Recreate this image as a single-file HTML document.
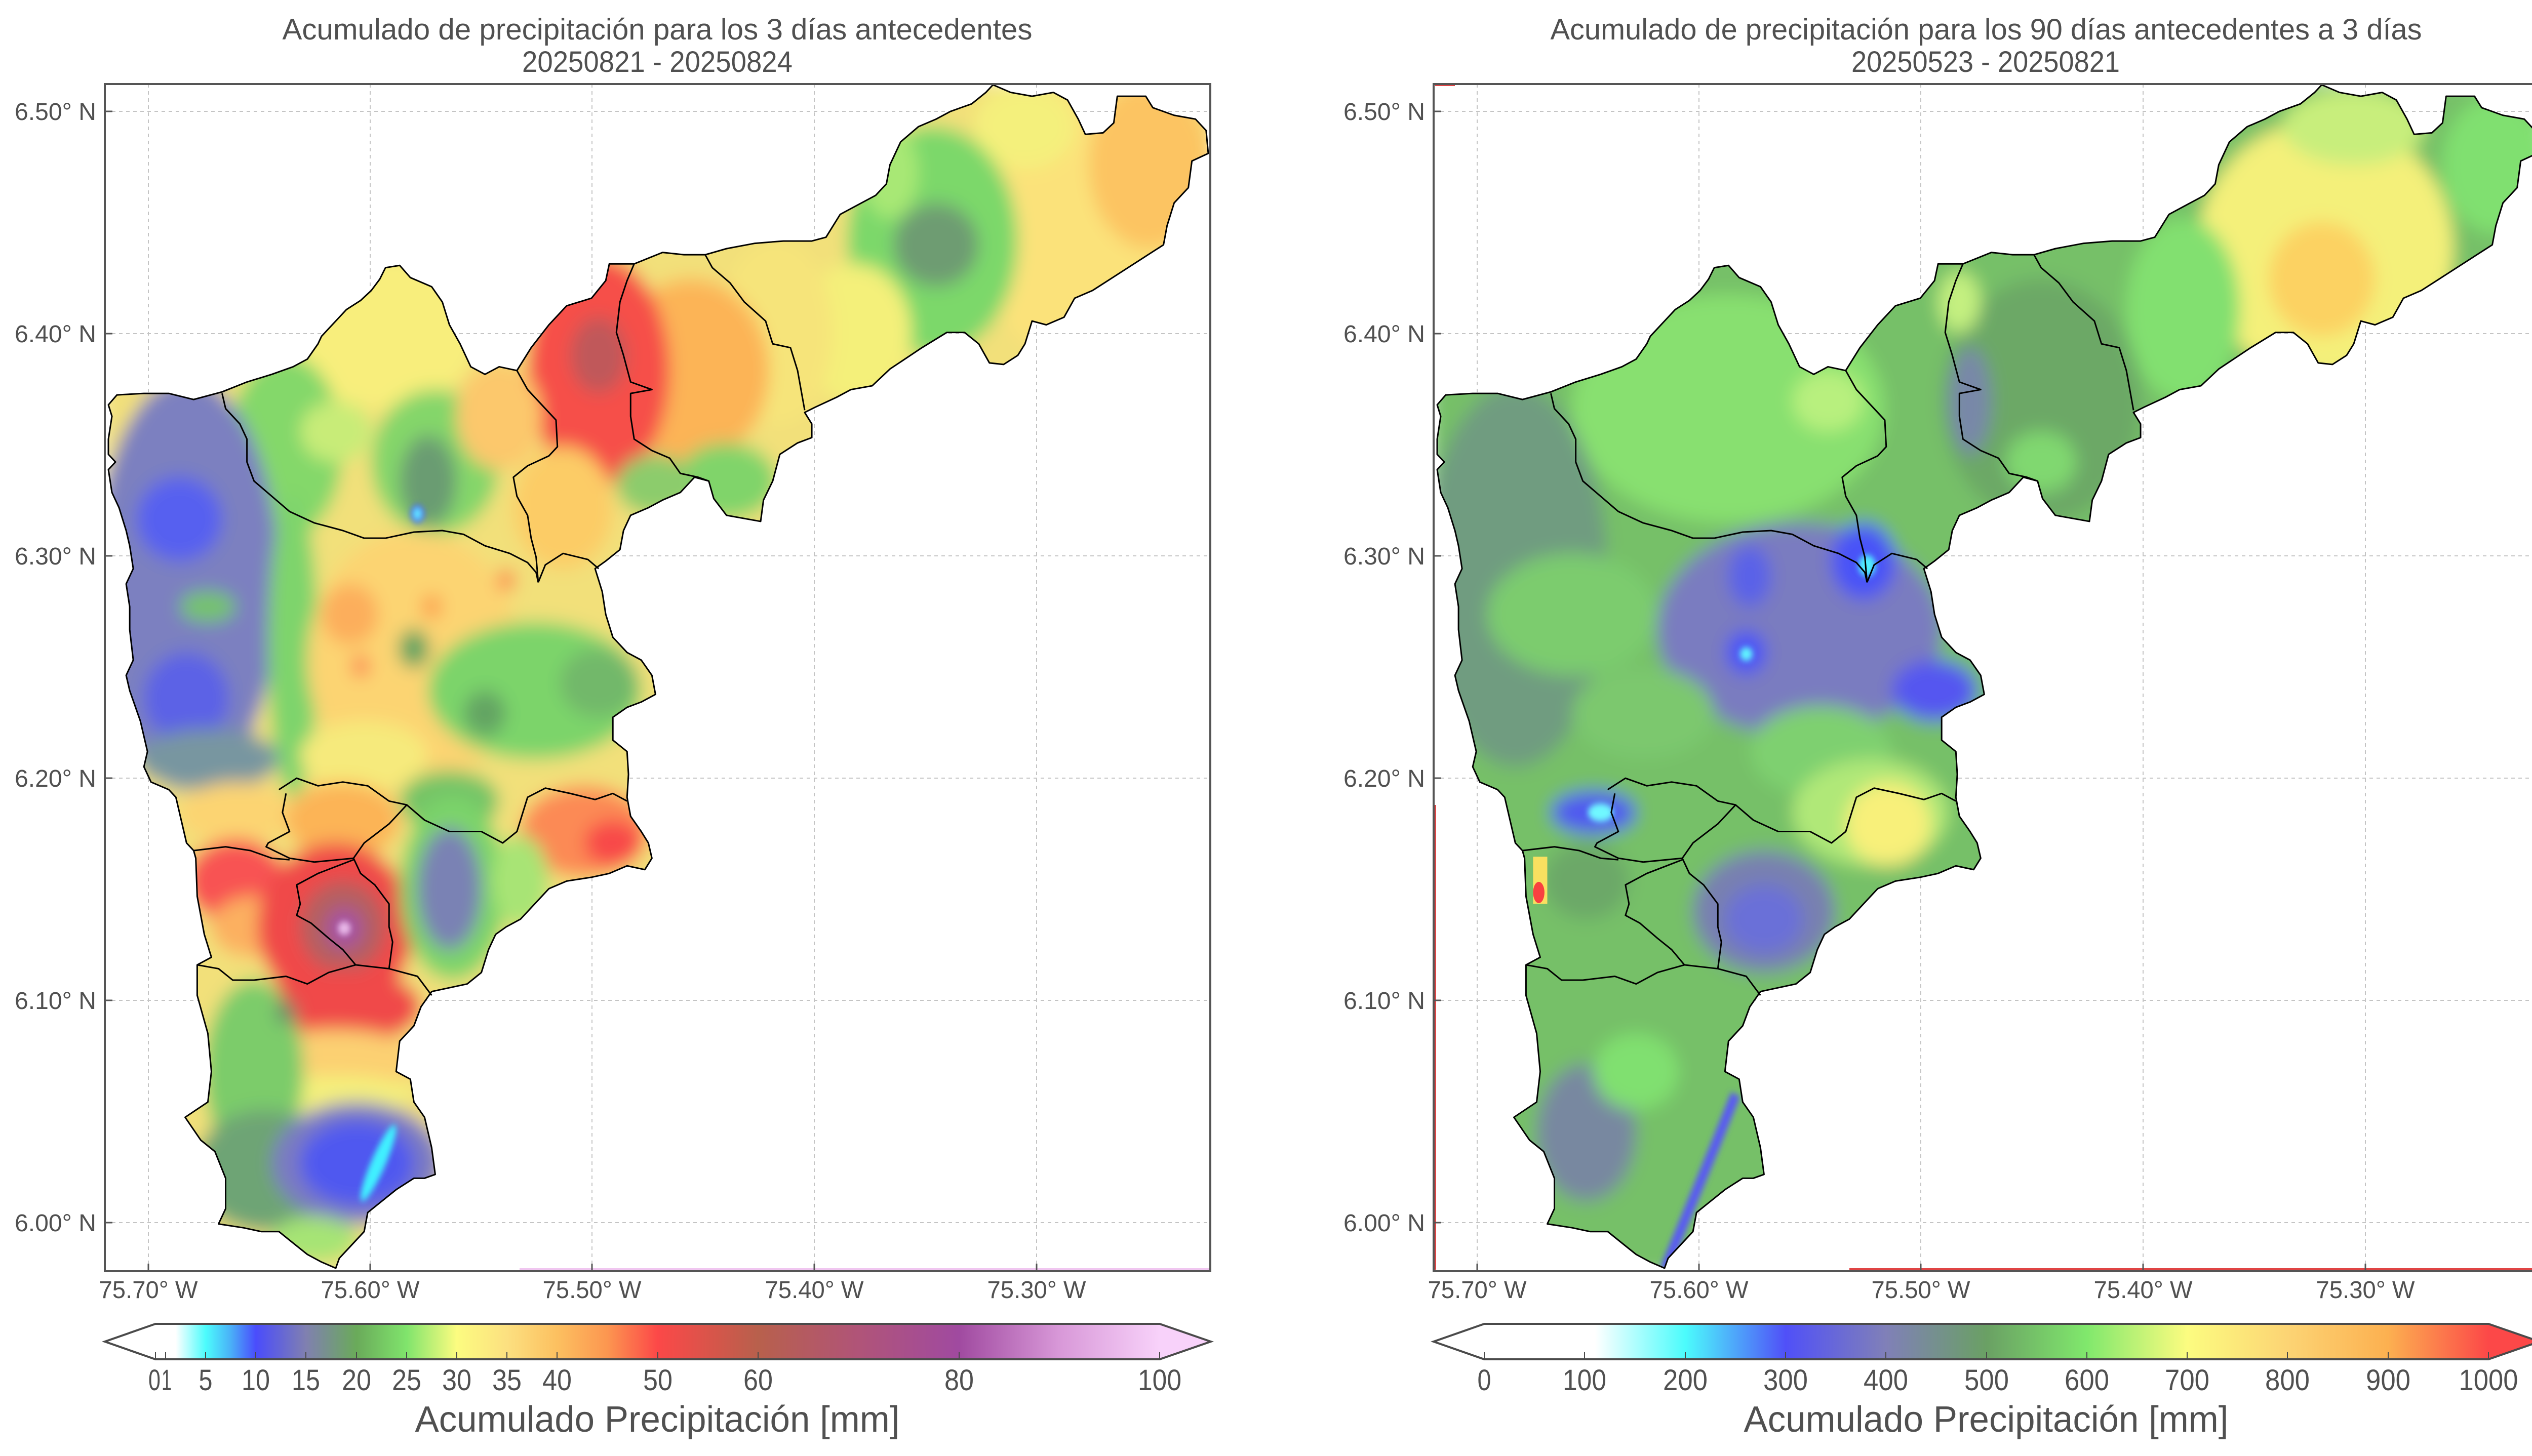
<!DOCTYPE html>
<html><head><meta charset="utf-8"><style>
html,body{margin:0;padding:0;background:#fff;}
svg{display:block;}
text{font-family:"Liberation Sans",sans-serif;fill:#505050;}
</style></head><body>
<svg width="5044" height="2876" viewBox="0 0 5044 2876" xmlns="http://www.w3.org/2000/svg">
<defs>
<clipPath id="basin" clipPathUnits="userSpaceOnUse">
<polygon points="22,412 60,410 95,410 130,418 170,408 205,395 240,385 270,375 290,365 305,345 310,335 330,315 345,300 365,288 380,275 392,260 400,245 420,242 435,258 465,270 480,290 490,320 505,345 520,375 540,385 560,375 585,380 605,350 630,320 655,295 690,285 710,262 715,240 750,240 790,225 820,228 850,228 880,220 920,213 960,210 1000,210 1020,205 1040,175 1060,165 1090,150 1105,135 1110,110 1125,80 1150,60 1175,50 1195,40 1225,30 1245,15 1255,5 1280,15 1310,20 1340,15 1360,25 1375,50 1385,70 1410,68 1425,55 1430,20 1470,20 1480,35 1510,45 1540,50 1555,65 1558,95 1535,105 1530,140 1510,160 1500,190 1495,215 1470,230 1445,245 1420,260 1395,275 1370,285 1355,310 1330,320 1310,315 1300,345 1290,360 1270,372 1250,370 1235,345 1215,330 1190,330 1155,350 1110,378 1085,400 1055,405 1035,415 1005,428 990,435 1000,450 1000,468 980,475 955,490 945,525 932,550 928,578 910,575 880,570 862,548 855,525 835,520 815,540 790,550 770,560 745,570 735,590 730,615 710,630 695,640 705,670 710,700 720,730 740,750 760,760 775,780 780,805 760,815 740,822 720,835 720,865 740,880 742,910 740,940 745,965 760,985 770,1000 775,1020 765,1035 740,1030 715,1040 690,1045 655,1050 630,1060 610,1080 590,1100 570,1110 555,1120 545,1140 535,1170 515,1185 490,1190 465,1195 450,1215 440,1240 420,1260 415,1300 435,1310 440,1340 455,1360 465,1400 470,1435 455,1440 440,1440 415,1455 395,1470 375,1485 370,1510 350,1530 335,1545 330,1558 310,1550 290,1540 270,1525 250,1510 225,1510 200,1505 165,1500 175,1480 175,1440 160,1405 140,1390 118,1360 150,1340 155,1300 150,1250 135,1200 135,1160 155,1150 145,1120 135,1070 133,1020 130,1010 120,1000 105,940 95,930 70,920 60,900 65,880 55,840 40,800 35,780 45,760 40,720 40,690 35,660 45,640 40,610 35,590 25,560 15,540 10,510 20,500 10,490 10,470 15,440 10,425"/>
</clipPath>
<filter id="blur" filterUnits="userSpaceOnUse" x="-50" y="-50" width="1700" height="1700"><feGaussianBlur stdDeviation="12"/></filter>
<filter id="blurS" filterUnits="userSpaceOnUse" x="-50" y="-50" width="1700" height="1700"><feGaussianBlur stdDeviation="4"/></filter>
<linearGradient id="cbL" gradientUnits="userSpaceOnUse" x1="307" y1="0" x2="2290" y2="0">
<stop offset="0" stop-color="#ffffff"/><stop offset="0.02" stop-color="#ffffff"/><stop offset="0.05" stop-color="#4cfcfc"/><stop offset="0.075" stop-color="#4ab0f8"/><stop offset="0.10" stop-color="#4a4cfc"/><stop offset="0.15" stop-color="#8080b0"/><stop offset="0.20" stop-color="#6aaa5a"/><stop offset="0.25" stop-color="#80e46c"/><stop offset="0.30" stop-color="#fcfc80"/><stop offset="0.35" stop-color="#fce080"/><stop offset="0.40" stop-color="#fcc060"/><stop offset="0.45" stop-color="#fc9650"/><stop offset="0.50" stop-color="#fc4848"/><stop offset="0.60" stop-color="#b8604c"/><stop offset="0.70" stop-color="#b05478"/><stop offset="0.80" stop-color="#a04aa0"/><stop offset="0.90" stop-color="#d898d8"/><stop offset="1" stop-color="#f8d2fa"/>
</linearGradient>
<linearGradient id="cbR" gradientUnits="userSpaceOnUse" x1="2931" y1="0" x2="4914" y2="0">
<stop offset="0" stop-color="#ffffff"/><stop offset="0.11" stop-color="#ffffff"/><stop offset="0.2" stop-color="#4cfcfc"/><stop offset="0.3" stop-color="#5050f8"/><stop offset="0.4" stop-color="#8080b8"/><stop offset="0.5" stop-color="#6aa064"/><stop offset="0.6" stop-color="#80e86c"/><stop offset="0.7" stop-color="#fcfc80"/><stop offset="0.8" stop-color="#fcd474"/><stop offset="0.9" stop-color="#fcb050"/><stop offset="1" stop-color="#fc4848"/>
</linearGradient>
</defs>

<!-- ================= LEFT PANEL ================= -->
<g stroke="#c4c4c4" stroke-width="2" stroke-dasharray="7,7" fill="none">
<line x1="293" y1="166" x2="293" y2="2511"/><line x1="731" y1="166" x2="731" y2="2511"/><line x1="1169" y1="166" x2="1169" y2="2511"/><line x1="1608" y1="166" x2="1608" y2="2511"/><line x1="2047" y1="166" x2="2047" y2="2511"/>
<line x1="207" y1="220" x2="2390" y2="220"/><line x1="207" y1="659" x2="2390" y2="659"/><line x1="207" y1="1098" x2="2390" y2="1098"/><line x1="207" y1="1537" x2="2390" y2="1537"/><line x1="207" y1="1976" x2="2390" y2="1976"/><line x1="207" y1="2415" x2="2390" y2="2415"/>
</g>

<g transform="translate(200,160) scale(1.40306,1.5051)">
<g clip-path="url(#basin)">
<g filter="url(#blur)">
<rect x="0" y="0" width="1568" height="1568" fill="#f2e07a"/>
<ellipse cx="1400" cy="190" rx="170" ry="190" fill="#fbe27a"/>
<ellipse cx="1475" cy="110" rx="85" ry="110" fill="#fcc462"/>
<ellipse cx="1300" cy="60" rx="70" ry="55" fill="#f4f07c"/>
<ellipse cx="1170" cy="210" rx="120" ry="150" fill="#7cd86a"/>
<ellipse cx="1175" cy="215" rx="60" ry="55" fill="#6e9c72"/>
<ellipse cx="1110" cy="120" rx="40" ry="60" fill="#a8e874"/>
<ellipse cx="1060" cy="330" rx="80" ry="90" fill="#f4f07a"/>
<ellipse cx="950" cy="330" rx="80" ry="120" fill="#f6e47a"/>
<ellipse cx="830" cy="380" rx="110" ry="120" fill="#fcb456"/>
<ellipse cx="700" cy="380" rx="100" ry="150" fill="#f65048"/>
<ellipse cx="700" cy="360" rx="40" ry="50" fill="#c0585a"/>
<ellipse cx="880" cy="525" rx="70" ry="50" fill="#80d46a"/>
<ellipse cx="780" cy="530" rx="55" ry="40" fill="#8ccc6c"/>
<ellipse cx="650" cy="560" rx="70" ry="80" fill="#fccc66"/>
<ellipse cx="400" cy="330" rx="130" ry="100" fill="#f8ee7c"/>
<ellipse cx="260" cy="480" rx="80" ry="120" fill="#84d86a"/>
<ellipse cx="470" cy="500" rx="90" ry="95" fill="#84d66a"/>
<ellipse cx="460" cy="525" rx="40" ry="60" fill="#6a9c72"/>
<ellipse cx="560" cy="440" rx="60" ry="70" fill="#fcc86c"/>
<ellipse cx="330" cy="460" rx="50" ry="40" fill="#c8ec78"/>
<ellipse cx="120" cy="660" rx="130" ry="270" fill="#7c80c0"/>
<ellipse cx="110" cy="575" rx="60" ry="55" fill="#5660f0"/>
<ellipse cx="120" cy="810" rx="60" ry="60" fill="#5c62e6"/>
<ellipse cx="150" cy="690" rx="40" ry="20" fill="#74c46a"/>
<ellipse cx="270" cy="740" rx="35" ry="200" fill="#7ed46c"/>
<ellipse cx="150" cy="890" rx="100" ry="40" fill="#7896a0"/>
<ellipse cx="440" cy="760" rx="150" ry="170" fill="#fcd472"/>
<ellipse cx="350" cy="700" rx="40" ry="40" fill="#fcae5c"/>
<ellipse cx="570" cy="655" rx="14" ry="14" fill="#fc8c50"/>
<ellipse cx="465" cy="690" rx="15" ry="15" fill="#fca050"/>
<ellipse cx="555" cy="748" rx="16" ry="16" fill="#fc6c4c"/>
<ellipse cx="365" cy="768" rx="14" ry="14" fill="#fc8a54"/>
<ellipse cx="440" cy="745" rx="22" ry="25" fill="#62a462"/>
<ellipse cx="610" cy="800" rx="150" ry="90" fill="#7cd46a"/>
<ellipse cx="540" cy="830" rx="30" ry="30" fill="#64a464"/>
<ellipse cx="700" cy="790" rx="55" ry="45" fill="#72b86a"/>
<ellipse cx="370" cy="885" rx="90" ry="45" fill="#f6ea7c"/>
<ellipse cx="490" cy="945" rx="70" ry="40" fill="#74c466"/>
<ellipse cx="190" cy="960" rx="80" ry="40" fill="#fcd472"/>
<ellipse cx="340" cy="970" rx="80" ry="50" fill="#fcb456"/>
<ellipse cx="190" cy="1050" rx="70" ry="55" fill="#f85252"/>
<ellipse cx="215" cy="1110" rx="60" ry="40" fill="#fcb060"/>
<ellipse cx="330" cy="1110" rx="110" ry="110" fill="#f04a4a"/>
<ellipse cx="340" cy="1110" rx="60" ry="60" fill="#b46060"/>
<ellipse cx="342" cy="1112" rx="26" ry="26" fill="#a452a4"/>
<ellipse cx="495" cy="1060" rx="75" ry="120" fill="#7cd46a"/>
<ellipse cx="490" cy="1060" rx="45" ry="80" fill="#7a82b4"/>
<ellipse cx="680" cy="985" rx="90" ry="60" fill="#fc8a54"/>
<ellipse cx="720" cy="1000" rx="40" ry="30" fill="#f84a4a"/>
<ellipse cx="590" cy="1050" rx="40" ry="60" fill="#a8e474"/>
<ellipse cx="340" cy="1215" rx="110" ry="50" fill="#f04a4a"/>
<ellipse cx="330" cy="1285" rx="120" ry="40" fill="#fcd072"/>
<ellipse cx="330" cy="1330" rx="110" ry="25" fill="#f4f07c"/>
<ellipse cx="215" cy="1300" rx="70" ry="120" fill="#7ccc6a"/>
<ellipse cx="230" cy="1430" rx="100" ry="80" fill="#6ea474"/>
<ellipse cx="360" cy="1420" rx="120" ry="80" fill="#7a7ac2"/>
<ellipse cx="360" cy="1420" rx="80" ry="55" fill="#5058f0"/>
<ellipse cx="300" cy="1520" rx="60" ry="30" fill="#a6e474"/>
<ellipse cx="260" cy="1222" rx="15" ry="15" fill="#6a8a6a"/>
</g>
<g filter="url(#blurS)">
<ellipse cx="445" cy="568" rx="10" ry="12" fill="#4a60ff"/>
<ellipse cx="445" cy="568" rx="5" ry="7" fill="#66f4ff"/>
<ellipse cx="342" cy="1112" rx="9" ry="9" fill="#e8b8e8"/>
<ellipse cx="390" cy="1420" rx="10" ry="55" fill="#40f0ff" transform="rotate(25 390 1420)"/>
</g>
</g>
<g fill="none" stroke="#000" stroke-width="3" stroke-linejoin="round">
<polygon vector-effect="non-scaling-stroke" points="22,412 60,410 95,410 130,418 170,408 205,395 240,385 270,375 290,365 305,345 310,335 330,315 345,300 365,288 380,275 392,260 400,245 420,242 435,258 465,270 480,290 490,320 505,345 520,375 540,385 560,375 585,380 605,350 630,320 655,295 690,285 710,262 715,240 750,240 790,225 820,228 850,228 880,220 920,213 960,210 1000,210 1020,205 1040,175 1060,165 1090,150 1105,135 1110,110 1125,80 1150,60 1175,50 1195,40 1225,30 1245,15 1255,5 1280,15 1310,20 1340,15 1360,25 1375,50 1385,70 1410,68 1425,55 1430,20 1470,20 1480,35 1510,45 1540,50 1555,65 1558,95 1535,105 1530,140 1510,160 1500,190 1495,215 1470,230 1445,245 1420,260 1395,275 1370,285 1355,310 1330,320 1310,315 1300,345 1290,360 1270,372 1250,370 1235,345 1215,330 1190,330 1155,350 1110,378 1085,400 1055,405 1035,415 1005,428 990,435 1000,450 1000,468 980,475 955,490 945,525 932,550 928,578 910,575 880,570 862,548 855,525 835,520 815,540 790,550 770,560 745,570 735,590 730,615 710,630 695,640 705,670 710,700 720,730 740,750 760,760 775,780 780,805 760,815 740,822 720,835 720,865 740,880 742,910 740,940 745,965 760,985 770,1000 775,1020 765,1035 740,1030 715,1040 690,1045 655,1050 630,1060 610,1080 590,1100 570,1110 555,1120 545,1140 535,1170 515,1185 490,1190 465,1195 450,1215 440,1240 420,1260 415,1300 435,1310 440,1340 455,1360 465,1400 470,1435 455,1440 440,1440 415,1455 395,1470 375,1485 370,1510 350,1530 335,1545 330,1558 310,1550 290,1540 270,1525 250,1510 225,1510 200,1505 165,1500 175,1480 175,1440 160,1405 140,1390 118,1360 150,1340 155,1300 150,1250 135,1200 135,1160 155,1150 145,1120 135,1070 133,1020 130,1010 120,1000 105,940 95,930 70,920 60,900 65,880 55,840 40,800 35,780 45,760 40,720 40,690 35,660 45,640 40,610 35,590 25,560 15,540 10,510 20,500 10,490 10,470 15,440 10,425"/>
<polyline vector-effect="non-scaling-stroke" points="170,410 175,430 195,450 205,470 205,500 215,525 240,545 265,565 300,580 340,590 370,600 400,600 440,592 480,590 510,595 540,610 575,620 600,632 612,645 615,658"/>
<polyline vector-effect="non-scaling-stroke" points="585,380 600,405 625,430 640,445 642,480 630,492 600,505 580,520 585,545 600,570 605,600 612,625 615,658"/>
<polyline vector-effect="non-scaling-stroke" points="615,658 625,635 650,620 685,628 700,640"/>
<polyline vector-effect="non-scaling-stroke" points="750,240 740,262 730,290 725,330 735,360 745,395 775,405 745,410 745,440 750,470 775,485 800,495 815,515 840,520 855,525"/>
<polyline vector-effect="non-scaling-stroke" points="850,228 860,245 885,265 905,290 935,315 945,345 970,350 980,380 990,432"/>
<polyline vector-effect="non-scaling-stroke" points="250,930 275,915 305,925 340,920 375,925 405,945 430,950 455,970 490,985 535,985 565,1000 585,985 600,940 625,928 660,935 695,943 720,935 740,945"/>
<polyline vector-effect="non-scaling-stroke" points="260,935 255,960 265,985 235,1000 232,1005 265,1020 300,1025 355,1020 370,1000 405,975 430,950"/>
<polyline vector-effect="non-scaling-stroke" points="130,1010 175,1005 210,1010 240,1020 265,1022"/>
<polyline vector-effect="non-scaling-stroke" points="355,1020 365,1040 385,1055 405,1080 405,1110 410,1130 405,1165"/>
<polyline vector-effect="non-scaling-stroke" points="355,1022 305,1040 275,1055 280,1080 275,1095 295,1105 320,1125 340,1140 358,1160"/>
<polyline vector-effect="non-scaling-stroke" points="135,1160 165,1165 185,1180 215,1180 260,1175 290,1185 320,1170 358,1160 405,1165 445,1175 465,1200"/>
</g>
</g>
<line x1="1026" y1="2507" x2="2390" y2="2507" stroke="#f0c6f0" stroke-width="4"/>
<rect x="207" y="166" width="2183" height="2345" fill="none" stroke="#555" stroke-width="4"/>
<g stroke="#555" stroke-width="3">
<line x1="207" y1="220" x2="222" y2="220"/><line x1="207" y1="659" x2="222" y2="659"/><line x1="207" y1="1098" x2="222" y2="1098"/><line x1="207" y1="1537" x2="222" y2="1537"/><line x1="207" y1="1976" x2="222" y2="1976"/><line x1="207" y1="2415" x2="222" y2="2415"/>
<line x1="293" y1="2496" x2="293" y2="2511"/><line x1="731" y1="2496" x2="731" y2="2511"/><line x1="1169" y1="2496" x2="1169" y2="2511"/><line x1="1608" y1="2496" x2="1608" y2="2511"/><line x1="2047" y1="2496" x2="2047" y2="2511"/>
</g>
<g font-size="48" text-anchor="end">
<text x="190" y="237" textLength="161" lengthAdjust="spacingAndGlyphs">6.50° N</text>
<text x="190" y="676" textLength="161" lengthAdjust="spacingAndGlyphs">6.40° N</text>
<text x="190" y="1115" textLength="161" lengthAdjust="spacingAndGlyphs">6.30° N</text>
<text x="190" y="1554" textLength="161" lengthAdjust="spacingAndGlyphs">6.20° N</text>
<text x="190" y="1993" textLength="161" lengthAdjust="spacingAndGlyphs">6.10° N</text>
<text x="190" y="2432" textLength="161" lengthAdjust="spacingAndGlyphs">6.00° N</text>
</g>
<g font-size="48" text-anchor="middle">
<text x="293" y="2564" textLength="195" lengthAdjust="spacingAndGlyphs">75.70° W</text>
<text x="731" y="2564" textLength="195" lengthAdjust="spacingAndGlyphs">75.60° W</text>
<text x="1169" y="2564" textLength="195" lengthAdjust="spacingAndGlyphs">75.50° W</text>
<text x="1608" y="2564" textLength="195" lengthAdjust="spacingAndGlyphs">75.40° W</text>
<text x="2047" y="2564" textLength="195" lengthAdjust="spacingAndGlyphs">75.30° W</text>
</g>
<g font-size="58" text-anchor="middle" style="fill:#454545">
<text x="1298" y="78" textLength="1481" lengthAdjust="spacingAndGlyphs">Acumulado de precipitación para los 3 días antecedentes</text>
<text x="1298" y="142" textLength="534" lengthAdjust="spacingAndGlyphs">20250821 - 20250824</text>
</g>
<!-- left colorbar -->
<rect x="307" y="2615" width="1983" height="70" fill="url(#cbL)"/>
<polygon points="207,2650 307,2615 307,2685" fill="#ffffff"/>
<polygon points="2290,2615 2391,2650 2290,2685" fill="#f8d2fa"/>
<g stroke="#4a4a4a" stroke-width="2">
<line x1="307" y1="2671" x2="307" y2="2685"/><line x1="327" y1="2671" x2="327" y2="2685"/><line x1="406" y1="2671" x2="406" y2="2685"/><line x1="505" y1="2671" x2="505" y2="2685"/><line x1="604" y1="2671" x2="604" y2="2685"/><line x1="704" y1="2671" x2="704" y2="2685"/><line x1="803" y1="2671" x2="803" y2="2685"/><line x1="902" y1="2671" x2="902" y2="2685"/><line x1="1001" y1="2671" x2="1001" y2="2685"/><line x1="1100" y1="2671" x2="1100" y2="2685"/><line x1="1299" y1="2671" x2="1299" y2="2685"/><line x1="1497" y1="2671" x2="1497" y2="2685"/><line x1="1894" y1="2671" x2="1894" y2="2685"/><line x1="2290" y1="2671" x2="2290" y2="2685"/>
</g>
<polygon points="207,2650 307,2615 2290,2615 2391,2650 2290,2685 307,2685" fill="none" stroke="#4a4a4a" stroke-width="4" stroke-linejoin="miter"/>
<g font-size="58" text-anchor="middle">
<text x="305" y="2746" textLength="24" lengthAdjust="spacingAndGlyphs">0</text>
<text x="329" y="2746" textLength="20" lengthAdjust="spacingAndGlyphs">1</text>
<text x="406" y="2746" textLength="27" lengthAdjust="spacingAndGlyphs">5</text>
<text x="505" y="2746" textLength="56" lengthAdjust="spacingAndGlyphs">10</text>
<text x="604" y="2746" textLength="56" lengthAdjust="spacingAndGlyphs">15</text>
<text x="704" y="2746" textLength="58" lengthAdjust="spacingAndGlyphs">20</text>
<text x="803" y="2746" textLength="58" lengthAdjust="spacingAndGlyphs">25</text>
<text x="902" y="2746" textLength="58" lengthAdjust="spacingAndGlyphs">30</text>
<text x="1001" y="2746" textLength="58" lengthAdjust="spacingAndGlyphs">35</text>
<text x="1100" y="2746" textLength="58" lengthAdjust="spacingAndGlyphs">40</text>
<text x="1299" y="2746" textLength="58" lengthAdjust="spacingAndGlyphs">50</text>
<text x="1497" y="2746" textLength="58" lengthAdjust="spacingAndGlyphs">60</text>
<text x="1894" y="2746" textLength="58" lengthAdjust="spacingAndGlyphs">80</text>
<text x="2290" y="2746" textLength="86" lengthAdjust="spacingAndGlyphs">100</text>
</g>
<text x="1298" y="2828" font-size="72" text-anchor="middle" textLength="957" lengthAdjust="spacingAndGlyphs">Acumulado Precipitación [mm]</text>

<!-- ================= RIGHT PANEL ================= -->
<g stroke="#c4c4c4" stroke-width="2" stroke-dasharray="7,7" fill="none">
<line x1="2917" y1="166" x2="2917" y2="2511"/><line x1="3355" y1="166" x2="3355" y2="2511"/><line x1="3793" y1="166" x2="3793" y2="2511"/><line x1="4232" y1="166" x2="4232" y2="2511"/><line x1="4671" y1="166" x2="4671" y2="2511"/>
<line x1="2831" y1="220" x2="5014" y2="220"/><line x1="2831" y1="659" x2="5014" y2="659"/><line x1="2831" y1="1098" x2="5014" y2="1098"/><line x1="2831" y1="1537" x2="5014" y2="1537"/><line x1="2831" y1="1976" x2="5014" y2="1976"/><line x1="2831" y1="2415" x2="5014" y2="2415"/>
</g>

<g transform="translate(2824,160) scale(1.40306,1.5051)">
<g clip-path="url(#basin)">
<g filter="url(#blur)">
<rect x="0" y="0" width="1568" height="1568" fill="#76c068"/>
<ellipse cx="1260" cy="220" rx="180" ry="170" fill="#f4f07a"/>
<ellipse cx="1255" cy="260" rx="75" ry="75" fill="#fcd262"/>
<ellipse cx="1500" cy="110" rx="75" ry="90" fill="#80e070"/>
<ellipse cx="1300" cy="60" rx="100" ry="50" fill="#c8ee7c"/>
<ellipse cx="1060" cy="300" rx="80" ry="120" fill="#82e070"/>
<ellipse cx="860" cy="420" rx="140" ry="160" fill="#6ca866"/>
<ellipse cx="760" cy="420" rx="30" ry="70" fill="#7888a8"/>
<ellipse cx="860" cy="500" rx="50" ry="40" fill="#80d870"/>
<ellipse cx="745" cy="290" rx="30" ry="40" fill="#c4f080"/>
<ellipse cx="420" cy="430" rx="220" ry="150" fill="#88e070"/>
<ellipse cx="560" cy="420" rx="50" ry="40" fill="#b8f07e"/>
<ellipse cx="120" cy="650" rx="130" ry="250" fill="#709c80"/>
<ellipse cx="200" cy="700" rx="120" ry="80" fill="#7ccc6e"/>
<ellipse cx="520" cy="720" rx="200" ry="140" fill="#7a7cc0"/>
<ellipse cx="450" cy="650" rx="30" ry="40" fill="#5a62e8"/>
<ellipse cx="610" cy="630" rx="45" ry="50" fill="#4a52f8"/>
<ellipse cx="710" cy="800" rx="60" ry="40" fill="#5456f0"/>
<ellipse cx="445" cy="750" rx="28" ry="28" fill="#4a52f8"/>
<ellipse cx="300" cy="830" rx="100" ry="60" fill="#7cc86e"/>
<ellipse cx="550" cy="880" rx="100" ry="60" fill="#7ed070"/>
<ellipse cx="620" cy="960" rx="110" ry="70" fill="#b0e878"/>
<ellipse cx="645" cy="975" rx="60" ry="55" fill="#f8f07a"/>
<ellipse cx="470" cy="1090" rx="100" ry="80" fill="#7880b0"/>
<ellipse cx="470" cy="1100" rx="55" ry="45" fill="#6a70d8"/>
<ellipse cx="230" cy="960" rx="60" ry="28" fill="#5058f0"/>
<ellipse cx="220" cy="1380" rx="70" ry="90" fill="#7888a0"/>
<ellipse cx="290" cy="1300" rx="60" ry="50" fill="#80e070"/>
<ellipse cx="220" cy="1050" rx="60" ry="50" fill="#6ca868"/>
</g>
<g filter="url(#blurS)">
<ellipse cx="615" cy="636" rx="12" ry="14" fill="#50f0ff"/>
<ellipse cx="445" cy="752" rx="9" ry="9" fill="#60f4ff"/>
<ellipse cx="240" cy="960" rx="18" ry="12" fill="#70f8ff"/>
<polyline points="430,1330 400,1400 365,1480 330,1560" fill="none" stroke="#5a5cf0" stroke-width="14"/>
</g>
<rect x="145" y="1018" width="20" height="62" fill="#f8e060"/>
<ellipse cx="153" cy="1065" rx="8" ry="14" fill="#f84040"/>
</g>
<g fill="none" stroke="#000" stroke-width="3" stroke-linejoin="round">
<polygon vector-effect="non-scaling-stroke" points="22,412 60,410 95,410 130,418 170,408 205,395 240,385 270,375 290,365 305,345 310,335 330,315 345,300 365,288 380,275 392,260 400,245 420,242 435,258 465,270 480,290 490,320 505,345 520,375 540,385 560,375 585,380 605,350 630,320 655,295 690,285 710,262 715,240 750,240 790,225 820,228 850,228 880,220 920,213 960,210 1000,210 1020,205 1040,175 1060,165 1090,150 1105,135 1110,110 1125,80 1150,60 1175,50 1195,40 1225,30 1245,15 1255,5 1280,15 1310,20 1340,15 1360,25 1375,50 1385,70 1410,68 1425,55 1430,20 1470,20 1480,35 1510,45 1540,50 1555,65 1558,95 1535,105 1530,140 1510,160 1500,190 1495,215 1470,230 1445,245 1420,260 1395,275 1370,285 1355,310 1330,320 1310,315 1300,345 1290,360 1270,372 1250,370 1235,345 1215,330 1190,330 1155,350 1110,378 1085,400 1055,405 1035,415 1005,428 990,435 1000,450 1000,468 980,475 955,490 945,525 932,550 928,578 910,575 880,570 862,548 855,525 835,520 815,540 790,550 770,560 745,570 735,590 730,615 710,630 695,640 705,670 710,700 720,730 740,750 760,760 775,780 780,805 760,815 740,822 720,835 720,865 740,880 742,910 740,940 745,965 760,985 770,1000 775,1020 765,1035 740,1030 715,1040 690,1045 655,1050 630,1060 610,1080 590,1100 570,1110 555,1120 545,1140 535,1170 515,1185 490,1190 465,1195 450,1215 440,1240 420,1260 415,1300 435,1310 440,1340 455,1360 465,1400 470,1435 455,1440 440,1440 415,1455 395,1470 375,1485 370,1510 350,1530 335,1545 330,1558 310,1550 290,1540 270,1525 250,1510 225,1510 200,1505 165,1500 175,1480 175,1440 160,1405 140,1390 118,1360 150,1340 155,1300 150,1250 135,1200 135,1160 155,1150 145,1120 135,1070 133,1020 130,1010 120,1000 105,940 95,930 70,920 60,900 65,880 55,840 40,800 35,780 45,760 40,720 40,690 35,660 45,640 40,610 35,590 25,560 15,540 10,510 20,500 10,490 10,470 15,440 10,425"/>
<polyline vector-effect="non-scaling-stroke" points="170,410 175,430 195,450 205,470 205,500 215,525 240,545 265,565 300,580 340,590 370,600 400,600 440,592 480,590 510,595 540,610 575,620 600,632 612,645 615,658"/>
<polyline vector-effect="non-scaling-stroke" points="585,380 600,405 625,430 640,445 642,480 630,492 600,505 580,520 585,545 600,570 605,600 612,625 615,658"/>
<polyline vector-effect="non-scaling-stroke" points="615,658 625,635 650,620 685,628 700,640"/>
<polyline vector-effect="non-scaling-stroke" points="750,240 740,262 730,290 725,330 735,360 745,395 775,405 745,410 745,440 750,470 775,485 800,495 815,515 840,520 855,525"/>
<polyline vector-effect="non-scaling-stroke" points="850,228 860,245 885,265 905,290 935,315 945,345 970,350 980,380 990,432"/>
<polyline vector-effect="non-scaling-stroke" points="250,930 275,915 305,925 340,920 375,925 405,945 430,950 455,970 490,985 535,985 565,1000 585,985 600,940 625,928 660,935 695,943 720,935 740,945"/>
<polyline vector-effect="non-scaling-stroke" points="260,935 255,960 265,985 235,1000 232,1005 265,1020 300,1025 355,1020 370,1000 405,975 430,950"/>
<polyline vector-effect="non-scaling-stroke" points="130,1010 175,1005 210,1010 240,1020 265,1022"/>
<polyline vector-effect="non-scaling-stroke" points="355,1020 365,1040 385,1055 405,1080 405,1110 410,1130 405,1165"/>
<polyline vector-effect="non-scaling-stroke" points="355,1022 305,1040 275,1055 280,1080 275,1095 295,1105 320,1125 340,1140 358,1160"/>
<polyline vector-effect="non-scaling-stroke" points="135,1160 165,1165 185,1180 215,1180 260,1175 290,1185 320,1170 358,1160 405,1165 445,1175 465,1200"/>
</g>
</g>
<g stroke="#e04444" stroke-width="4">
<line x1="2834" y1="1590" x2="2834" y2="2508"/>
<line x1="2834" y1="168" x2="2873" y2="168"/>
<line x1="3652" y1="2507" x2="5014" y2="2507"/>
</g>
<rect x="2831" y="166" width="2183" height="2345" fill="none" stroke="#555" stroke-width="4"/>
<g stroke="#555" stroke-width="3">
<line x1="2831" y1="220" x2="2846" y2="220"/><line x1="2831" y1="659" x2="2846" y2="659"/><line x1="2831" y1="1098" x2="2846" y2="1098"/><line x1="2831" y1="1537" x2="2846" y2="1537"/><line x1="2831" y1="1976" x2="2846" y2="1976"/><line x1="2831" y1="2415" x2="2846" y2="2415"/>
<line x1="2917" y1="2496" x2="2917" y2="2511"/><line x1="3355" y1="2496" x2="3355" y2="2511"/><line x1="3793" y1="2496" x2="3793" y2="2511"/><line x1="4232" y1="2496" x2="4232" y2="2511"/><line x1="4671" y1="2496" x2="4671" y2="2511"/>
</g>
<g font-size="48" text-anchor="end">
<text x="2814" y="237" textLength="161" lengthAdjust="spacingAndGlyphs">6.50° N</text>
<text x="2814" y="676" textLength="161" lengthAdjust="spacingAndGlyphs">6.40° N</text>
<text x="2814" y="1115" textLength="161" lengthAdjust="spacingAndGlyphs">6.30° N</text>
<text x="2814" y="1554" textLength="161" lengthAdjust="spacingAndGlyphs">6.20° N</text>
<text x="2814" y="1993" textLength="161" lengthAdjust="spacingAndGlyphs">6.10° N</text>
<text x="2814" y="2432" textLength="161" lengthAdjust="spacingAndGlyphs">6.00° N</text>
</g>
<g font-size="48" text-anchor="middle">
<text x="2917" y="2564" textLength="195" lengthAdjust="spacingAndGlyphs">75.70° W</text>
<text x="3355" y="2564" textLength="195" lengthAdjust="spacingAndGlyphs">75.60° W</text>
<text x="3793" y="2564" textLength="195" lengthAdjust="spacingAndGlyphs">75.50° W</text>
<text x="4232" y="2564" textLength="195" lengthAdjust="spacingAndGlyphs">75.40° W</text>
<text x="4671" y="2564" textLength="195" lengthAdjust="spacingAndGlyphs">75.30° W</text>
</g>
<g font-size="58" text-anchor="middle" style="fill:#454545">
<text x="3922" y="78" textLength="1721" lengthAdjust="spacingAndGlyphs">Acumulado de precipitación para los 90 días antecedentes a 3 días</text>
<text x="3921" y="142" textLength="530" lengthAdjust="spacingAndGlyphs">20250523 - 20250821</text>
</g>
<!-- right colorbar -->
<rect x="2931" y="2615" width="1983" height="70" fill="url(#cbR)"/>
<polygon points="2831,2650 2931,2615 2931,2685" fill="#ffffff"/>
<polygon points="4914,2615 5015,2650 4914,2685" fill="#fc4848"/>
<g stroke="#4a4a4a" stroke-width="2">
<line x1="2931" y1="2671" x2="2931" y2="2685"/><line x1="3129" y1="2671" x2="3129" y2="2685"/><line x1="3328" y1="2671" x2="3328" y2="2685"/><line x1="3526" y1="2671" x2="3526" y2="2685"/><line x1="3724" y1="2671" x2="3724" y2="2685"/><line x1="3923" y1="2671" x2="3923" y2="2685"/><line x1="4121" y1="2671" x2="4121" y2="2685"/><line x1="4319" y1="2671" x2="4319" y2="2685"/><line x1="4517" y1="2671" x2="4517" y2="2685"/><line x1="4716" y1="2671" x2="4716" y2="2685"/><line x1="4914" y1="2671" x2="4914" y2="2685"/>
</g>
<polygon points="2831,2650 2931,2615 4914,2615 5015,2650 4914,2685 2931,2685" fill="none" stroke="#4a4a4a" stroke-width="4"/>
<g font-size="58" text-anchor="middle">
<text x="2931" y="2746" textLength="27" lengthAdjust="spacingAndGlyphs">0</text>
<text x="3129" y="2746" textLength="86" lengthAdjust="spacingAndGlyphs">100</text>
<text x="3328" y="2746" textLength="88" lengthAdjust="spacingAndGlyphs">200</text>
<text x="3526" y="2746" textLength="88" lengthAdjust="spacingAndGlyphs">300</text>
<text x="3724" y="2746" textLength="88" lengthAdjust="spacingAndGlyphs">400</text>
<text x="3923" y="2746" textLength="88" lengthAdjust="spacingAndGlyphs">500</text>
<text x="4121" y="2746" textLength="88" lengthAdjust="spacingAndGlyphs">600</text>
<text x="4319" y="2746" textLength="88" lengthAdjust="spacingAndGlyphs">700</text>
<text x="4517" y="2746" textLength="88" lengthAdjust="spacingAndGlyphs">800</text>
<text x="4716" y="2746" textLength="88" lengthAdjust="spacingAndGlyphs">900</text>
<text x="4914" y="2746" textLength="117" lengthAdjust="spacingAndGlyphs">1000</text>
</g>
<text x="3922" y="2828" font-size="72" text-anchor="middle" textLength="957" lengthAdjust="spacingAndGlyphs">Acumulado Precipitación [mm]</text>
</svg>
</body></html>
